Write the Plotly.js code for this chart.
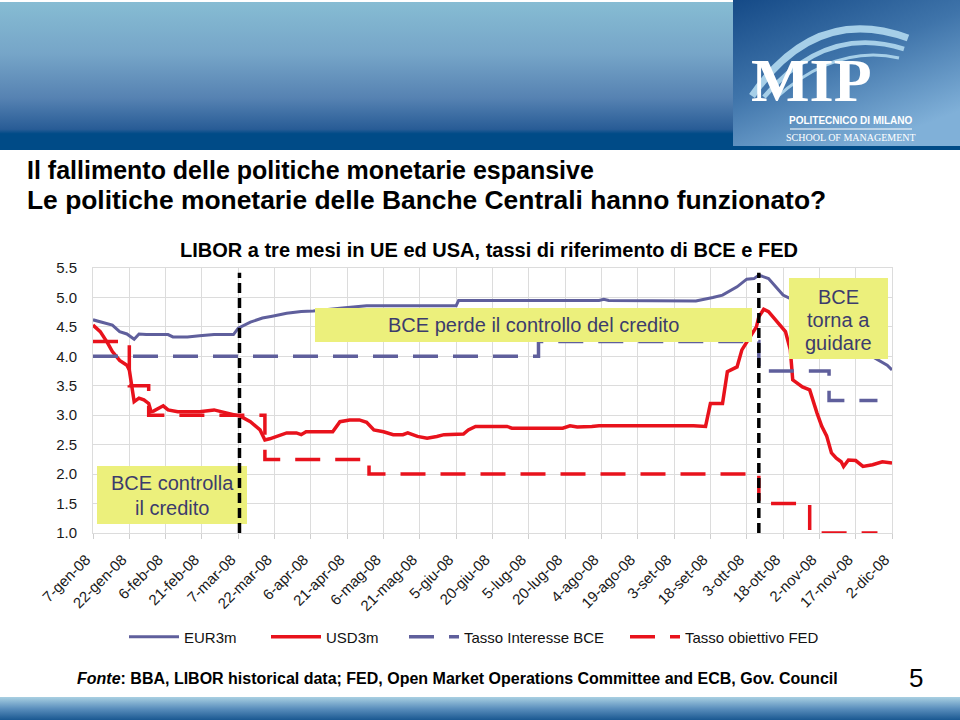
<!DOCTYPE html>
<html>
<head>
<meta charset="utf-8">
<script src="https://cdn.plot.ly/plotly-3.0.1.min.js"></script>
<style>
  html, body { margin:0; padding:0; background:#ffffff; }
  #wrap { position:relative; width:960px; height:720px; overflow:hidden; }
  #bg { position:absolute; left:0; top:0; }
  #chart { position:absolute; left:0; top:0; width:960px; height:720px; }
</style>
</head>
<body>
<div id="wrap">
  <svg id="bg" width="960" height="720" xmlns="http://www.w3.org/2000/svg">
    <defs>
      <linearGradient id="band" x1="0" y1="0" x2="0" y2="1">
        <stop offset="0" stop-color="#86bcd3"/>
        <stop offset="0.35" stop-color="#76a5c8"/>
        <stop offset="0.65" stop-color="#5682b2"/>
        <stop offset="0.86" stop-color="#285c96"/>
        <stop offset="0.89" stop-color="#004b87"/>
        <stop offset="1" stop-color="#004b87"/>
      </linearGradient>
      <linearGradient id="logo" x1="0" y1="0" x2="0.6" y2="1">
        <stop offset="0" stop-color="#154a87"/>
        <stop offset="0.5" stop-color="#3f74aa"/>
        <stop offset="1" stop-color="#80b0d8"/>
      </linearGradient>
      <linearGradient id="foot" x1="0" y1="0" x2="0" y2="1">
        <stop offset="0" stop-color="#a9d0e2"/>
        <stop offset="0.5" stop-color="#5b8fbd"/>
        <stop offset="1" stop-color="#1a5891"/>
      </linearGradient>
    </defs>
    <rect x="0" y="2" width="960" height="148" fill="url(#band)"/>
    <rect x="733" y="0" width="227" height="146" fill="url(#logo)"/>
    <path d="M752,96 Q815,4 908,38" stroke="#a6cfe8" stroke-width="7" fill="none"/>
    <path d="M764,97 Q826,24 904,49" stroke="#a6cfe8" stroke-width="4.5" fill="none"/>
    <path d="M776,98 Q836,44 899,58" stroke="#a6cfe8" stroke-width="3" fill="none"/>
    <line x1="790" y1="129" x2="912" y2="129" stroke="#ffffff" stroke-width="1"/>
    <rect x="0" y="697" width="960" height="23" fill="url(#foot)"/>
  </svg>
  <div id="chart"></div>
</div>
<script>
// ---------------- DATA ----------------
const eurDates = ['2008-01-07','2008-01-15','2008-01-18','2008-01-21','2008-01-24','2008-01-26','2008-01-29',
  '2008-02-07','2008-02-09','2008-02-15','2008-02-20','2008-02-26','2008-03-05','2008-03-07','2008-03-12',
  '2008-03-17','2008-03-21','2008-03-27','2008-04-02','2008-04-07','2008-04-19','2008-04-29','2008-06-05',
  '2008-06-06','2008-08-03','2008-08-05','2008-08-07','2008-09-12','2008-09-19','2008-09-23','2008-09-29',
  '2008-10-03','2008-10-06','2008-10-08','2008-10-12','2008-10-15','2008-10-18','2008-10-21','2008-10-28',
  '2008-11-05','2008-11-12','2008-11-18','2008-11-24','2008-11-30','2008-12-02'];
const eurValues = [4.62,4.53,4.42,4.38,4.29,4.38,4.37,
  4.37,4.33,4.33,4.35,4.37,4.37,4.48,4.58,
  4.65,4.68,4.73,4.76,4.77,4.82,4.86,4.86,
  4.95,4.95,4.97,4.95,4.94,5.00,5.04,5.18,
  5.31,5.32,5.38,5.32,5.18,5.04,4.98,4.92,
  4.75,4.50,4.25,3.99,3.85,3.77];

const usdDates = ['2008-01-07','2008-01-10','2008-01-13','2008-01-15','2008-01-18','2008-01-21','2008-01-22',
  '2008-01-23','2008-01-24','2008-01-26','2008-01-28','2008-01-30','2008-01-31','2008-02-01','2008-02-05',
  '2008-02-07','2008-02-11','2008-02-20','2008-02-26','2008-03-02','2008-03-08','2008-03-12','2008-03-16',
  '2008-03-18','2008-03-20','2008-03-27','2008-03-31','2008-04-02','2008-04-04','2008-04-15','2008-04-18',
  '2008-04-22','2008-04-26','2008-04-29','2008-05-02','2008-05-06','2008-05-10','2008-05-14','2008-05-16',
  '2008-05-20','2008-05-24','2008-05-28','2008-05-31','2008-06-08','2008-06-10','2008-06-13','2008-06-26',
  '2008-06-28','2008-07-19','2008-07-22','2008-07-25','2008-07-31','2008-08-03','2008-09-11','2008-09-16',
  '2008-09-18','2008-09-23','2008-09-25','2008-09-29','2008-10-01','2008-10-05','2008-10-07','2008-10-08',
  '2008-10-10','2008-10-12','2008-10-15','2008-10-19','2008-10-21','2008-10-22','2008-10-26','2008-10-29',
  '2008-11-01','2008-11-03','2008-11-05','2008-11-07','2008-11-09','2008-11-11','2008-11-12','2008-11-14',
  '2008-11-17','2008-11-20','2008-11-24','2008-11-28','2008-12-02'];
const usdValues = [4.53,4.42,4.23,4.08,3.93,3.85,3.77,
  3.48,3.23,3.29,3.26,3.20,3.06,3.07,3.16,
  3.09,3.06,3.06,3.09,3.04,2.98,2.89,2.75,
  2.58,2.60,2.70,2.70,2.67,2.72,2.72,2.89,
  2.92,2.92,2.88,2.75,2.72,2.67,2.67,2.70,
  2.64,2.61,2.64,2.67,2.68,2.75,2.81,2.81,
  2.78,2.78,2.82,2.80,2.81,2.82,2.82,2.81,
  3.20,3.20,3.74,3.82,4.11,4.36,4.50,4.67,
  4.80,4.76,4.62,4.42,4.11,3.60,3.48,3.43,
  3.04,2.81,2.65,2.36,2.27,2.21,2.13,2.24,
  2.23,2.13,2.16,2.21,2.19];

const bceDates = ['2008-01-07','2008-07-09','2008-10-08','2008-11-06','2008-11-26'];
const bceValues = [4.00,4.25,3.75,3.25,3.25];

const fedDates = ['2008-01-07','2008-01-22','2008-01-30','2008-03-18','2008-04-30','2008-10-08','2008-10-29','2008-11-26'];
const fedValues = [4.25,3.50,3.00,2.25,2.00,1.50,1.00,1.00];

const seriesNames = ['EUR3m','USD3m','Tasso Interesse BCE','Tasso obiettivo FED'];

const tickDates = ['2008-01-07','2008-01-22','2008-02-06','2008-02-21','2008-03-07','2008-03-22','2008-04-06',
  '2008-04-21','2008-05-06','2008-05-21','2008-06-05','2008-06-20','2008-07-05','2008-07-20','2008-08-04',
  '2008-08-19','2008-09-03','2008-09-18','2008-10-03','2008-10-18','2008-11-02','2008-11-17','2008-12-02'];
const tickLabels = ['7-gen-08','22-gen-08','6-feb-08','21-feb-08','7-mar-08','22-mar-08','6-apr-08',
  '21-apr-08','6-mag-08','21-mag-08','5-giu-08','20-giu-08','5-lug-08','20-lug-08','4-ago-08',
  '19-ago-08','3-set-08','18-set-08','3-ott-08','18-ott-08','2-nov-08','17-nov-08','2-dic-08'];

const eventDates = ['2008-03-07 12:00','2008-10-08'];

// ---------------- LAYOUT HELPERS ----------------
const ML = 93, MR = 68, MT = 268, MB = 187;
const PW = 960 - ML - MR, PH = 720 - MT - MB;
const X = px => (px - ML) / PW;
const Y = py => (720 - MB - py) / PH;

const FONT = 'Liberation Sans, Arial, Helvetica, sans-serif';
const SERIF = 'Liberation Serif, Times New Roman, serif';
const BLUE = '#5f5f9c';
const RED = '#e8121c';
const BOXFILL = '#ecf07c';
const BOXTEXT = '#3c3c6c';

const traces = [
  {x: eurDates, y: eurValues, name: seriesNames[0], type:'scatter', mode:'lines', legend:'legend',
   line:{color:BLUE, width:3}},
  {x: usdDates, y: usdValues, name: seriesNames[1], type:'scatter', mode:'lines', legend:'legend2',
   line:{color:RED, width:3.5}},
  {x: bceDates, y: bceValues, name: seriesNames[2], type:'scatter', mode:'lines', legend:'legend3',
   line:{color:BLUE, width:3.5, dash:'25px,15px', shape:'hv'}},
  {x: fedDates, y: fedValues, name: seriesNames[3], type:'scatter', mode:'lines', legend:'legend4',
   line:{color:RED, width:3.5, dash:'25px,15px', shape:'hv'}}
];

function box(x0, y0, x1, y1) {
  return {type:'rect', xref:'paper', yref:'paper', x0:X(x0), x1:X(x1), y0:Y(y1), y1:Y(y0),
          fillcolor:BOXFILL, line:{width:0}, layer:'above'};
}
const shapes = [
  box(315, 308, 752, 342),
  box(789, 278, 888, 359),
  box(97, 466, 247, 524)
];
eventDates.forEach(d => shapes.push({
  type:'line', xref:'x', yref:'y', x0:d, x1:d, y0:1.0, y1:5.42,
  line:{color:'#000000', width:3.5, dash:'10px,5px'}, layer:'above'
}));

function txt(text, px, py, size, opts) {
  opts = opts || {};
  return Object.assign({
    text: text, xref:'paper', yref:'paper', x: X(px), y: Y(py),
    xanchor: opts.xanchor || 'center', yanchor:'middle', showarrow:false,
    font:{family: opts.family || FONT, size:size, color: opts.color || '#000000'}
  }, opts.extra || {});
}

const annotations = [
  txt('<b>Il fallimento delle politiche monetarie espansive</b>', 25, 170, 25, {xanchor:'left'}),
  txt('<b>Le politiche monetarie delle Banche Centrali hanno funzionato?</b>', 25, 200, 26.4, {xanchor:'left'}),
  txt('<b>LIBOR a tre mesi in UE ed USA, tassi di riferimento di BCE e FED</b>', 489, 250, 20),
  txt('BCE perde il controllo del credito', 533, 325, 20, {color:BOXTEXT}),
  txt('BCE', 838, 297, 20, {color:BOXTEXT}),
  txt('torna a', 838, 320, 20, {color:BOXTEXT}),
  txt('guidare', 838, 343, 20, {color:BOXTEXT}),
  txt('BCE controlla', 172, 483, 20, {color:BOXTEXT}),
  txt('il credito', 172, 508, 20, {color:BOXTEXT}),
  txt('<b><i>Fonte</i>: BBA, LIBOR historical data; FED, Open Market Operations Committee and ECB, Gov. Council</b>',
      75, 678, 16, {xanchor:'left'}),
  txt('5', 916, 678, 26),
  txt('<b>MIP</b>', 811, 80, 62, {family:SERIF, color:'#ffffff'}),
  txt('<b>POLITECNICO DI MILANO</b>', 851, 121, 10, {color:'#ffffff'}),
  txt('SCHOOL OF MANAGEMENT', 851, 137, 10, {family:SERIF, color:'#ffffff'})
];

function leg(px) {
  return {orientation:'h', x: X(px), xanchor:'left', y: Y(637), yanchor:'middle',
          font:{family:FONT, size:15, color:'#111111'}, itemwidth:50,
          bgcolor:'rgba(0,0,0,0)', borderwidth:0};
}

const layout = {
  width: 960, height: 720,
  margin: {l: ML, r: MR, t: MT, b: MB, pad: 0},
  paper_bgcolor: 'rgba(0,0,0,0)',
  plot_bgcolor: '#ffffff',
  font: {family: FONT, color: '#1a1a1a'},
  showlegend: true,
  legend: leg(124),
  legend2: leg(266),
  legend3: leg(404),
  legend4: leg(625),
  xaxis: {
    type:'date', range:['2008-01-07','2008-12-02'],
    tickmode:'array', tickvals: tickDates, ticktext: tickLabels,
    tickangle: -45, tickfont:{size:15, family:FONT, color:'#1a1a1a'},
    ticklabelstandoff: 6, ticklabelshift: -7,
    showgrid:true, gridcolor:'#dcdcdc', gridwidth:1,
    showline:true, linecolor:'#dcdcdc', linewidth:1, mirror:true,
    ticks:'outside', ticklen:5, tickcolor:'#cfcfcf', zeroline:false, fixedrange:true
  },
  yaxis: {
    range:[1.0, 5.5], dtick:0.5, tick0:1.0, tickformat:'.1f',
    tickfont:{size:15, family:FONT, color:'#1a1a1a'},
    showgrid:true, gridcolor:'#dcdcdc', gridwidth:1,
    showline:true, linecolor:'#dcdcdc', linewidth:1, mirror:true,
    ticks:'', ticklabelstandoff: 12, zeroline:false, fixedrange:true
  },
  shapes: shapes,
  annotations: annotations
};

Plotly.newPlot('chart', traces, layout, {displayModeBar:false, staticPlot:true});
</script>
</body>
</html>
